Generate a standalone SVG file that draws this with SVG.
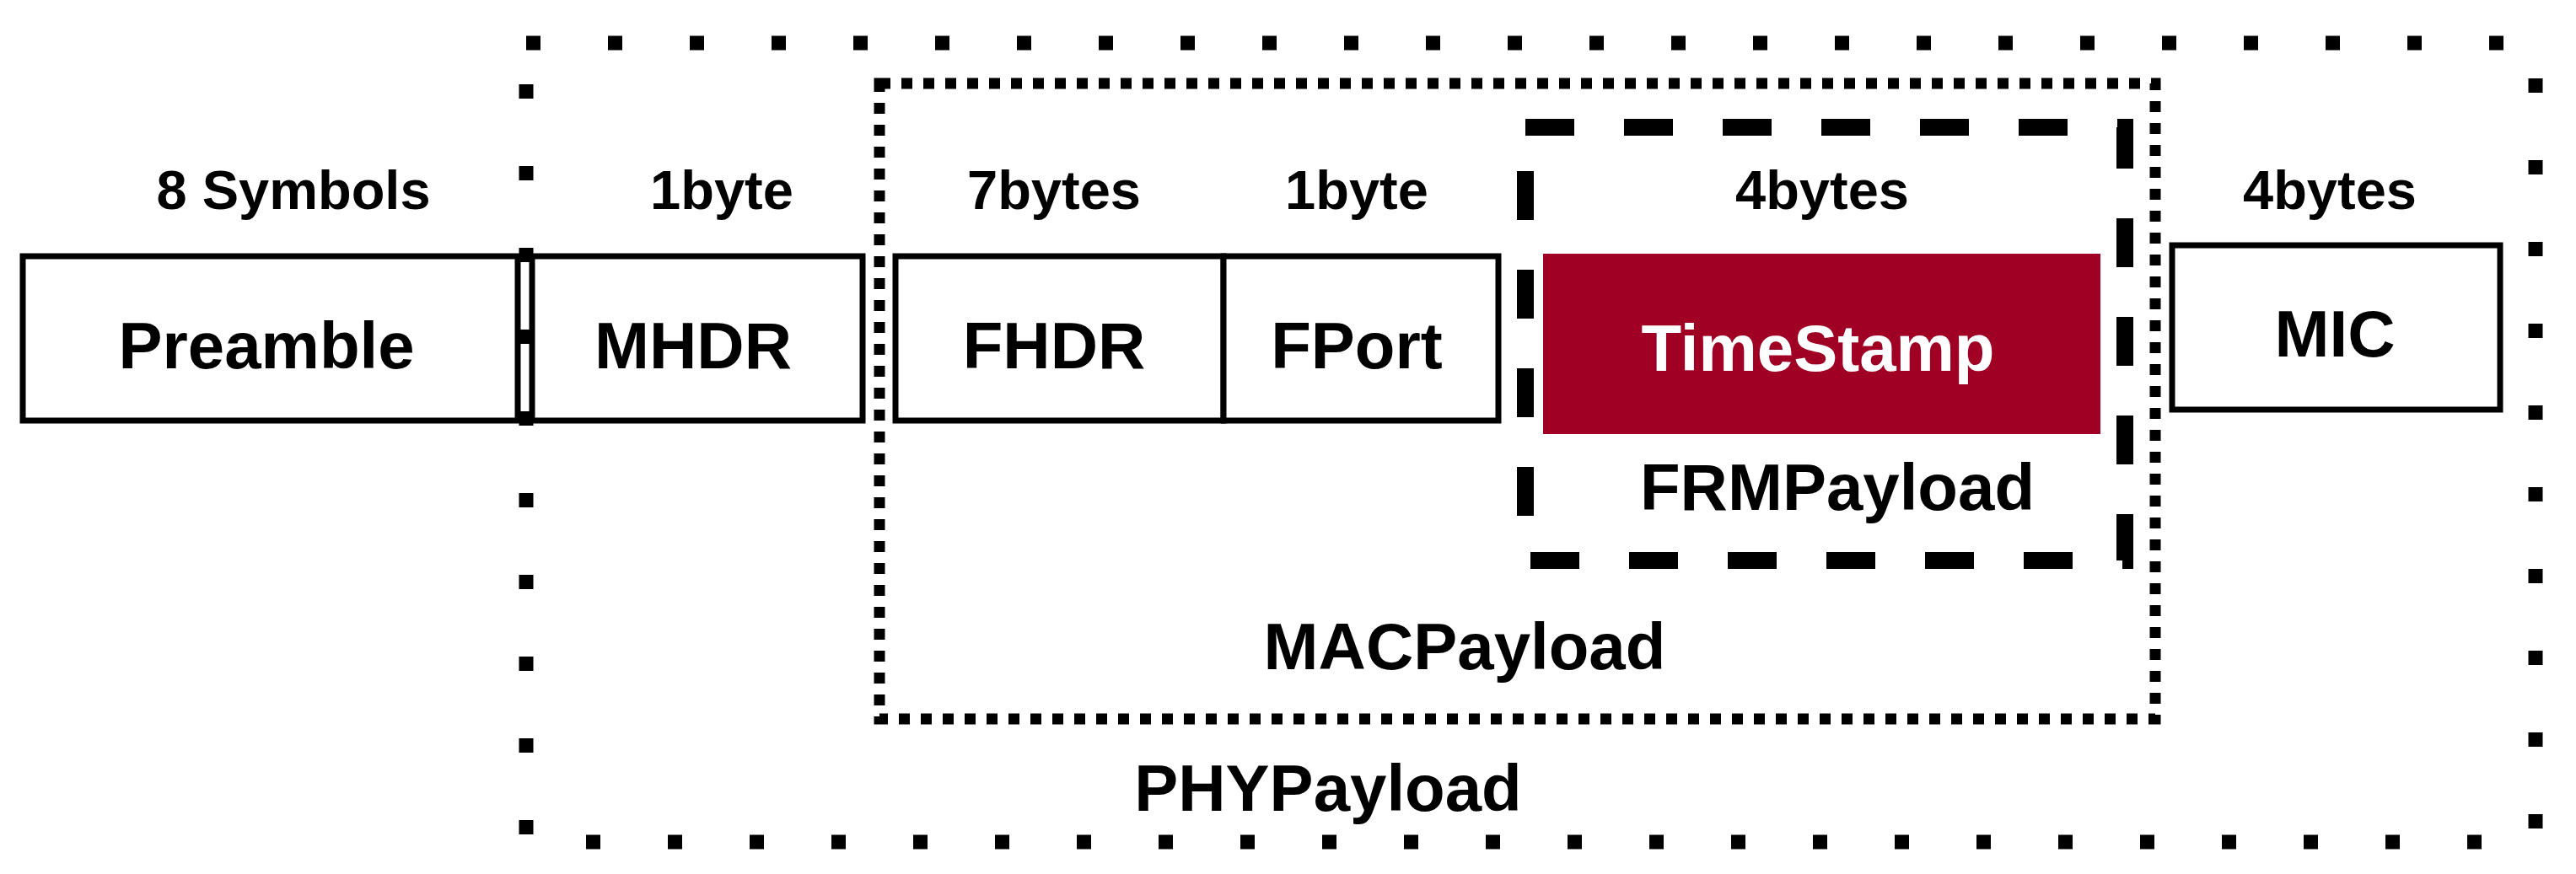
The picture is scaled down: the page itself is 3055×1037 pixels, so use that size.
<svg xmlns="http://www.w3.org/2000/svg" width="3055" height="1037" viewBox="0 0 3055 1037">
<style>
text{font-family:"Liberation Sans",Arial,sans-serif;font-weight:bold;text-anchor:middle;fill:#000}
.sz{font-size:65px}
.lb{font-size:78px}
.box{fill:#fff;stroke:#000;stroke-width:7}
</style>
<rect width="3055" height="1037" fill="#fff"/>
<g id="phypayload">
<rect x="624" y="51" width="2383" height="948" fill="none" stroke="#000" stroke-width="17" stroke-dasharray="17 80"/>
<text class="lb" x="1575" y="962">PHYPayload</text>
</g>
<g id="macpayload">
<rect x="1043" y="99" width="1513" height="754" fill="none" stroke="#000" stroke-width="13" stroke-dasharray="13 13"/>
<text class="lb" x="1737" y="794">MACPayload</text>
</g>
<g id="frmpayload">
<rect x="1809" y="151" width="711" height="514" fill="none" stroke="#000" stroke-width="20" stroke-dasharray="58 59"/>
<text class="lb" x="2179" y="605">FRMPayload</text>
</g>
<g id="preamble">
<rect class="box" x="27" y="304" width="587" height="195"/>
<text class="sz" x="348" y="248">8 Symbols</text>
<text class="lb" x="316" y="437">Preamble</text>
</g>
<g id="mhdr">
<rect class="box" x="631" y="304" width="392" height="195"/>
<text class="sz" x="856" y="248">1byte</text>
<text class="lb" x="822" y="437">MHDR</text>
</g>
<g id="fhdr">
<rect class="box" x="1062" y="304" width="389" height="195"/>
<text class="sz" x="1250" y="248">7bytes</text>
<text class="lb" x="1250" y="437">FHDR</text>
</g>
<g id="fport">
<rect class="box" x="1451" y="304" width="326" height="195"/>
<text class="sz" x="1609" y="248">1byte</text>
<text class="lb" x="1609" y="437">FPort</text>
</g>
<g id="timestamp">
<rect x="1830" y="301" width="661" height="214" fill="#A00024"/>
<text class="sz" x="2161" y="248">4bytes</text>
<text class="lb" x="2156" y="440" style="fill:#fff">TimeStamp</text>
</g>
<g id="mic">
<rect class="box" x="2576" y="291" width="389" height="195"/>
<text class="sz" x="2763" y="248">4bytes</text>
<text class="lb" x="2769" y="423">MIC</text>
</g>
<g id="connectors"/>
</svg>
